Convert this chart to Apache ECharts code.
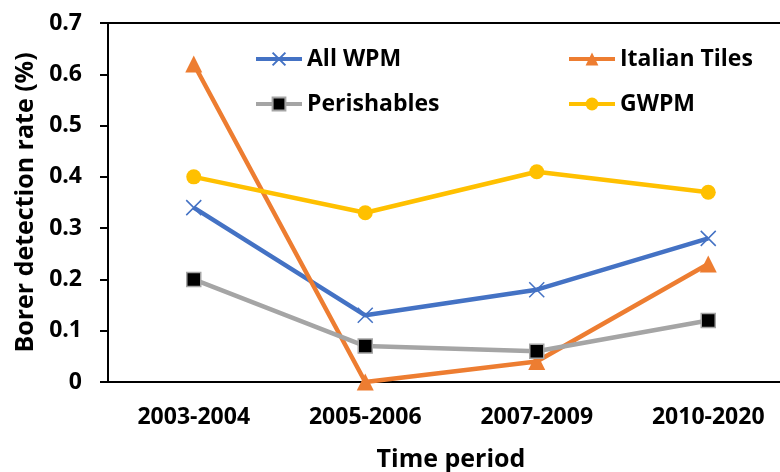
<!DOCTYPE html>
<html>
<head>
<meta charset="utf-8">
<script src="https://cdn.jsdelivr.net/npm/echarts@6/dist/echarts.min.js"></script>
<style>html,body{margin:0;padding:0;background:#fff;}#c{width:780px;height:472px;}</style>
</head>
<body>
<div id="c"></div>
<script>
var categories = ['2003-2004', '2005-2006', '2007-2009', '2010-2020'];
var allWPM = [0.34, 0.13, 0.18, 0.28];
var italianTiles = [0.62, 0, 0.04, 0.23];
var perishables = [0.20, 0.07, 0.06, 0.12];
var gwpm = [0.40, 0.33, 0.41, 0.37];
var yTickLabels = ['0', '0.1', '0.2', '0.3', '0.4', '0.5', '0.6', '0.7'];

var FONT = '"Open Sans", "Liberation Sans", sans-serif';
var chart = echarts.init(document.getElementById('c'), null, {renderer: 'canvas'});
var crossPath = 'path://M0,0L10,10M10,0L0,10';

chart.setOption({
  animation: false,
  backgroundColor: '#fff',
  grid: {left: 108, top: 23, width: 686, height: 359, show: true, borderColor: '#000', borderWidth: 2,
         backgroundColor: 'transparent', outerBoundsMode: 'none', containLabel: false},
  legend: [
    {data: ['All WPM', 'Perishables'], orient: 'vertical', left: 249, top: 41, itemWidth: 46, itemHeight: 16, itemGap: 19,
     lineStyle: {width: 4},
     textStyle: {fontFamily: FONT, fontWeight: 'bold', fontSize: 23, color: '#000', lineHeight: 26}},
    {data: ['Italian Tiles', 'GWPM'], orient: 'vertical', left: 562, top: 41, itemWidth: 46, itemHeight: 16, itemGap: 19,
     lineStyle: {width: 4},
     textStyle: {fontFamily: FONT, fontWeight: 'bold', fontSize: 23, color: '#000', lineHeight: 26}}
  ],
  xAxis: {
    type: 'category', data: categories, boundaryGap: true,
    name: 'Time period', nameLocation: 'middle', nameGap: 65,
    nameTextStyle: {fontFamily: FONT, fontWeight: 'bold', fontSize: 25, color: '#000'},
    axisLine: {lineStyle: {color: '#000', width: 2}},
    axisTick: {alignWithLabel: true, length: 7, lineStyle: {color: '#000', width: 2}},
    axisLabel: {fontFamily: FONT, fontWeight: 'bold', fontSize: 23, color: '#000', margin: 24},
    splitLine: {show: false}
  },
  yAxis: {
    type: 'value', min: 0, max: 0.7, interval: 0.1,
    name: 'Borer detection rate (%)', nameLocation: 'middle', nameGap: 70, nameRotate: 90,
    nameTextStyle: {fontFamily: FONT, fontWeight: 'bold', fontSize: 25, color: '#000'},
    axisLine: {show: true, lineStyle: {color: '#000', width: 2}},
    axisTick: {show: true, length: 8, lineStyle: {color: '#000', width: 2}},
    axisLabel: {fontFamily: FONT, fontWeight: 'bold', fontSize: 23, color: '#000', margin: 26,
      formatter: function (v) { return yTickLabels[Math.round(v * 10)]; }},
    splitLine: {show: false}
  },
  series: [
    {name: 'All WPM', type: 'line', data: allWPM, symbol: crossPath, symbolSize: 15,
     lineStyle: {color: '#4472C4', width: 4.5},
     itemStyle: {color: '#4472C4', borderColor: '#4472C4', borderWidth: 1.5}},
    {name: 'Italian Tiles', type: 'line', data: italianTiles, symbol: 'triangle', symbolSize: 17,
     lineStyle: {color: '#ED7D31', width: 4.5},
     itemStyle: {color: '#ED7D31'}},
    {name: 'Perishables', type: 'line', data: perishables, symbol: 'rect', symbolSize: 14,
     lineStyle: {color: '#A5A5A5', width: 4.5},
     itemStyle: {color: '#000', borderColor: '#A5A5A5', borderWidth: 1.5}},
    {name: 'GWPM', type: 'line', data: gwpm, symbol: 'circle', symbolSize: 15,
     lineStyle: {color: '#FFC000', width: 4.5},
     itemStyle: {color: '#FFC000'}}
  ]
});
</script>
</body>
</html>
